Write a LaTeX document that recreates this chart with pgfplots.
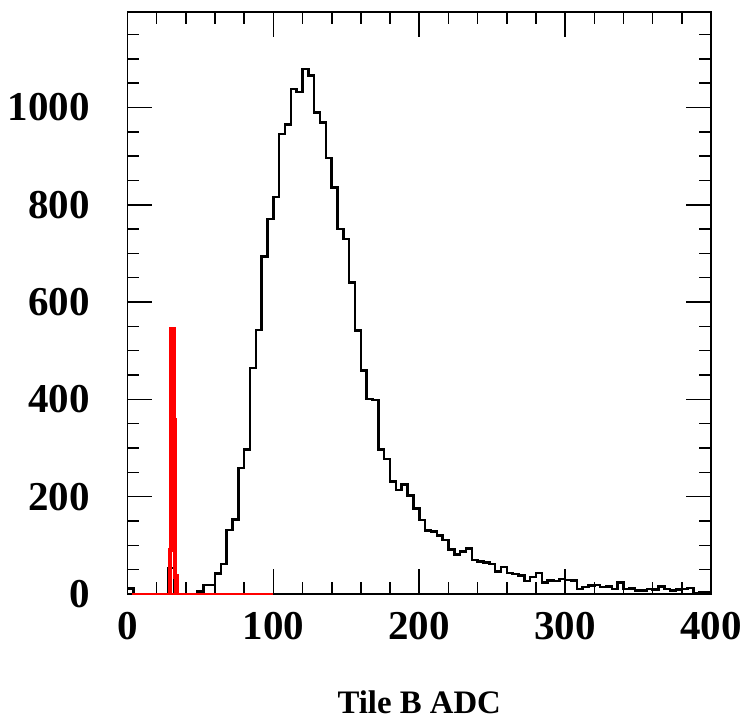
\documentclass[border=0pt]{standalone}
\usepackage{pgfplots}
\pgfplotsset{compat=1.18}
\usepackage{fontspec}
\setmainfont{Liberation Serif}
\begin{document}
\begin{tikzpicture}
\begin{axis}[
  name=ax,
  at={(0,0)}, anchor=south west,
  scale only axis,
  width=291.75pt, height=291pt,
  xmin=0, xmax=400, ymin=0, ymax=1196,
  xtick={0,100,200,300,400},
  minor xtick={20,40,60,80,120,140,160,180,220,240,260,280,320,340,360,380},
  ytick={0,200,400,600,800,1000},
  minor ytick={50,100,150,250,300,350,450,500,550,650,700,750,850,900,950,1050,1100,1150},
  tick align=inside,
  xtick pos=both, ytick pos=both,
  major tick length=12.5pt, minor tick length=6pt,
  every tick/.style={black, line width=0.8pt},
  axis line style={line width=0.8pt},
  /pgf/number format/assume math mode=true,
  /pgf/number format/1000 sep={},
  tick label style={font=\fontsize{20.5}{24}\bfseries},
  xticklabel style={anchor=north, inner sep=0pt, yshift=-8.85pt},
  yticklabel style={anchor=east, inner sep=0pt, xshift=-18.75pt},
  xlabel={Tile B ADC},
  xlabel style={at={(axis description cs:0.5,0)}, anchor=base, inner sep=0pt, yshift=-59.8pt, font=\fontsize{16.4}{20}\bfseries},
  clip=true,
]
\addplot[black, line width=1.25pt, const plot mark left] coordinates {
(0,11) (4,0) (8,0) (12,0) (16,0) (20,0) (24,0) (28,53) (32,0) (36,0) (40,0) (44,0)
(48,5) (52,18) (56,18) (60,42) (64,62) (68,132) (72,153) (76,259) (80,297)
(84,464) (88,543) (92,694) (96,771) (100,816) (104,945) (108,965) (112,1038)
(116,1032) (120,1079) (124,1065) (128,989) (132,969) (136,896) (140,835)
(144,750) (148,730) (152,640) (156,542) (160,459) (164,401) (168,399)
(172,297) (176,277) (180,231) (184,214) (188,225) (192,202) (196,176)
(200,152) (204,131) (208,128) (212,120) (216,111) (220,91) (224,81)
(228,87) (232,94) (236,70) (240,67) (244,65) (248,62) (252,46) (256,55)
(260,43) (264,41) (268,38) (272,27) (276,35) (280,43) (284,24) (288,28)
(292,27) (296,31) (300,29) (304,28) (308,10) (312,14) (316,17) (320,19)
(324,14) (328,15) (332,10) (336,24) (340,10) (344,11) (348,7) (352,7)
(356,10) (360,9) (364,15) (368,10) (372,7) (376,9) (380,10) (384,12)
(388,2) (392,4) (396,4) (400,4)
};
\addplot[red, line width=1.1pt] coordinates {(3,0) (100,0)};
\addplot[red, line width=2.1pt, const plot mark left] coordinates {
(28.8,0) (29.2,91) (30.2,544) (31.6,358) (32.6,36) (33.6,0) (35,0)
};
\end{axis}
\pgfresetboundingbox
\path[use as bounding box] (-63.75pt,-62.5pt) rectangle (308.25pt,297pt);
\end{tikzpicture}
\end{document}
